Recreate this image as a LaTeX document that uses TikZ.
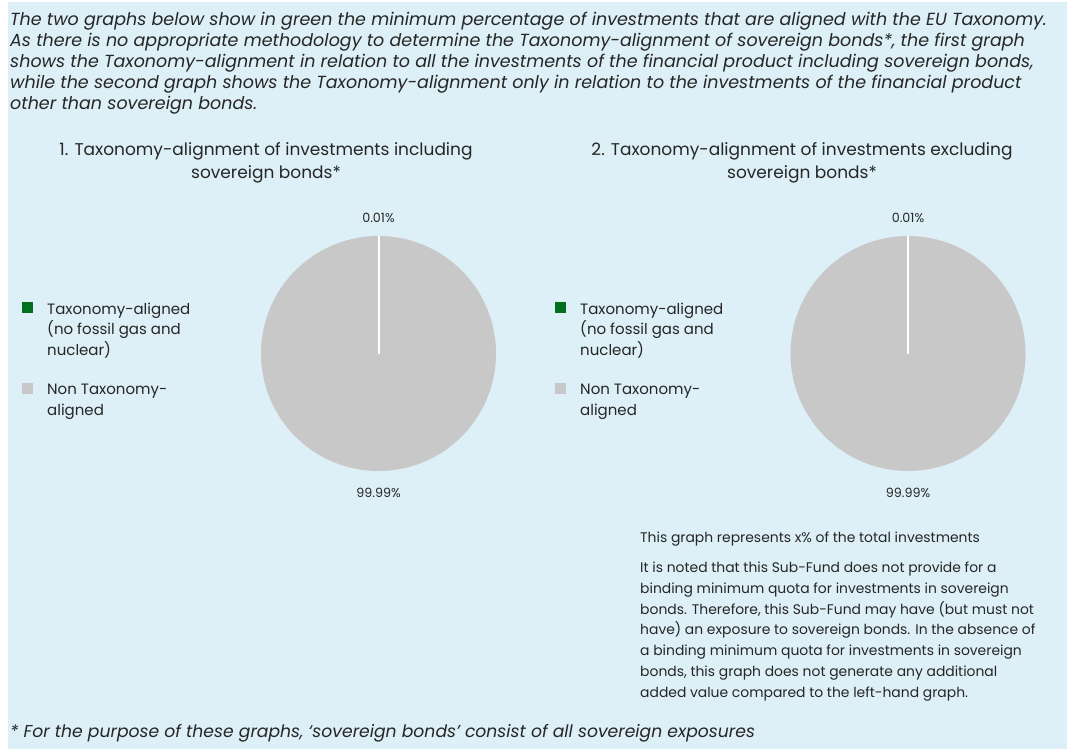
\documentclass[tikz,border=0pt]{standalone}
\usepackage{fontspec}
\setmainfont{Poppins}
\usepackage{tikz}

\definecolor{bgblue}{RGB}{221,239,247}
\definecolor{piegray}{RGB}{200,200,200}
\definecolor{taxgreen}{RGB}{0,112,30}
\definecolor{txt}{RGB}{38,38,38}

\tikzset{
	intro/.style={anchor=base west,inner sep=0pt,align=left,text=txt,font=\fontsize{17.5}{21}\selectfont\itshape},
	foottext/.style={anchor=base west,inner sep=0pt,text=txt,font=\fontsize{17.2}{21}\selectfont\itshape},
	title/.style={anchor=base,inner sep=0pt,align=center,text=txt,font=\fontsize{17}{23}\selectfont},
	body/.style={anchor=base west,inner sep=0pt,align=left,text=txt,font=\fontsize{13.9}{20.7}\selectfont},
	legtext/.style={anchor=base west,inner sep=0pt,align=left,text=txt,font=\fontsize{15}{20.5}\selectfont},
	legbox/.style={minimum size=11pt,inner sep=0pt},
	pct/.style={inner sep=0pt,text=txt,font=\fontsize{12.7}{14}\selectfont}
}

\begin{document}
\begin{tikzpicture}[x=1pt,y=-1pt]
		\useasboundingbox (0,0) rectangle (1073,749);
		\fill[bgblue] (8,2) rectangle (1067,749);

		\coordinate (P1) at (378.5,353.5);
		\coordinate (P2) at (908,353.5);
		\coordinate (P1top) at (378.5,236);
		\coordinate (P2top) at (908,236);

		\node[intro] (intro) at (10,110) {The two graphs below show in green the minimum percentage of investments that are aligned with the EU Taxonomy.\\
As there is no appropriate methodology to determine the Taxonomy-alignment of sovereign bonds*, the first graph\\
shows the Taxonomy-alignment in relation to all the investments of the financial product including sovereign bonds,\\
while the second graph shows the Taxonomy-alignment only in relation to the investments of the financial product\\
other than sovereign bonds.};

		\node[title] (title1) at (266,178) {1. Taxonomy-alignment of investments including\\ sovereign bonds*};
		\node[title] (title2) at (802,178) {2. Taxonomy-alignment of investments excluding\\ sovereign bonds*};

		\foreach \p/\dx in {1/0,2/533}{
			\node[legbox,fill=taxgreen] (green\p) at (27.5+\dx,307.5) {};
			\node[legbox,fill=piegray] (gray\p) at (27.5+\dx,388.5) {};
			\node[legtext] (greentext\p) at (47+\dx,355) {Taxonomy-aligned\\ (no fossil gas and\\ nuclear)};
			\node[legtext] (graytext\p) at (47+\dx,415) {Non Taxonomy-\\ aligned};
		}

		\fill[piegray] (P1) circle (117.5);
		\fill[piegray] (P2) circle (117.5);
		\draw[white,line width=2pt] (P1) -- (P1top);
		\draw[white,line width=2pt] (P2) -- (P2top);

		\node[pct] (small1) at (378.5,218) {0.01\%};
		\node[pct] (big1) at (378.5,493) {99.99\%};
		\node[pct] (small2) at (908,218) {0.01\%};
		\node[pct] (big2) at (908,493) {99.99\%};

		\node[body] (share) at (640,542) {This graph represents x\% of the total investments};
		\node[body] (note) at (640,697) {It is noted that this Sub-Fund does not provide for a\\
binding minimum quota for investments in sovereign\\
bonds. Therefore, this Sub-Fund may have (but must not\\
have) an exposure to sovereign bonds. In the absence of\\
a binding minimum quota for investments in sovereign\\
bonds, this graph does not generate any additional\\
added value compared to the left-hand graph.};

		\node[foottext] (foot) at (10,737) {* For the purpose of these graphs, ‘sovereign bonds’ consist of all sovereign exposures};
\end{tikzpicture}
\end{document}
